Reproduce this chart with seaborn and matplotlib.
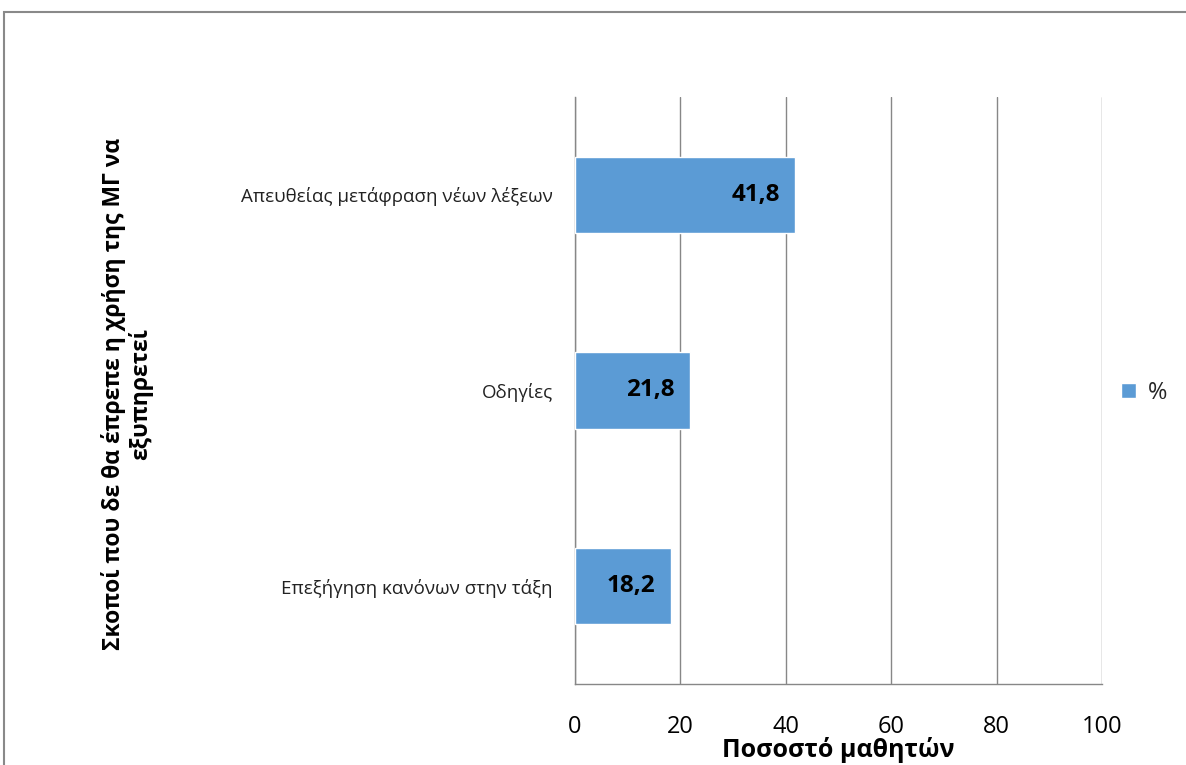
import seaborn as sns
import matplotlib.pyplot as plt
import pandas as pd
from matplotlib.patches import Rectangle

# Δεδομένα
κατηγορίες = ["Απευθείας μετάφραση νέων λέξεων", "Οδηγίες", "Επεξήγηση κανόνων στην τάξη"]
ποσοστά = [41.8, 21.8, 18.2]

df = pd.DataFrame({"Σκοπός": κατηγορίες, "Ποσοστό": ποσοστά})

sns.set_theme(style="white")
plt.rcParams["font.family"] = ["Open Sans", "DejaVu Sans"]

fig = plt.figure(figsize=(11.86, 7.65), dpi=100)
ax = fig.add_axes([0.4848, 0.1059, 0.4444, 0.7673])

sns.barplot(data=df, x="Ποσοστό", y="Σκοπός", orient="h", color="#5B9BD5",
            width=0.39, label="%", ax=ax, zorder=3, saturation=1)

# ετικέτες τιμών μέσα στις μπάρες
for i, v in enumerate(ποσοστά):
    ax.text(v - 2.9, i, f"{v:.1f}".replace(".", ","), ha="right", va="center",
            fontsize=17.5, fontweight="bold", color="black", zorder=4)

ax.set_xlim(0, 100)
ax.set_xticks(range(0, 101, 20))
ax.grid(axis="x", color="#878787", linewidth=1, zorder=0)
ax.grid(axis="y", visible=False)
ax.tick_params(axis="x", length=0, pad=22, labelsize=17, colors="black")
ax.tick_params(axis="y", length=0, pad=16, labelsize=13.5, colors="#222222")

for s in ["top", "right"]:
    ax.spines[s].set_visible(False)
for s in ["left", "bottom"]:
    ax.spines[s].set_color("#878787")
    ax.spines[s].set_linewidth(1)

ax.set_xlabel("Ποσοστό μαθητών", fontsize=18, fontweight="bold", color="black")
ax.xaxis.set_label_coords(0.5, -0.09)
ax.set_ylabel("")

fig.text(127 / 1186, 1 - 394 / 765,
         "Σκοποί που δε θα έπρεπε η χρήση της ΜΓ να\nεξυπηρετεί",
         rotation=90, ha="center", va="center", ma="center",
         fontsize=16.5, fontweight="bold", color="black", linespacing=1.1)

ax.legend(loc="center left", bbox_to_anchor=(1112 / 1186, 1 - 393 / 765),
          bbox_transform=fig.transFigure, frameon=False, fontsize=17,
          handlelength=0.6, handleheight=0.6, handletextpad=0.5,
          borderpad=0.2, borderaxespad=0.2)

# πλαίσιο γραφήματος
fig.patches.append(Rectangle((4 / 1186, -0.1), 1.2, 1.1 - 12 / 765,
                             transform=fig.transFigure, fill=False,
                             edgecolor="#898989", linewidth=1.5))

fig.savefig("out.png", dpi=100)
